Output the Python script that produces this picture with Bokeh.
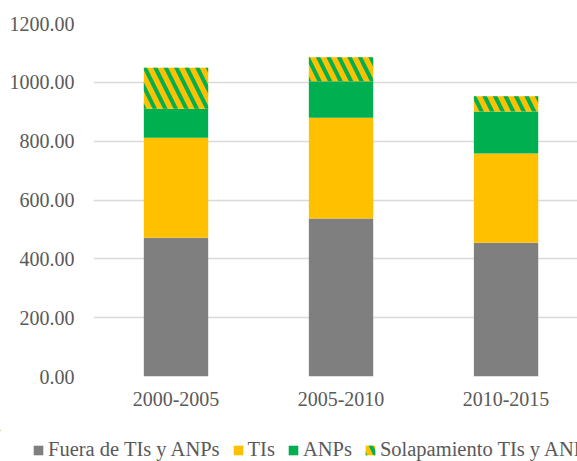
from bokeh.plotting import figure
from bokeh.models import Legend, LegendItem, FixedTicker, Range1d, ColumnDataSource
from bokeh.layouts import column
from bokeh.embed import file_html
from bokeh.resources import INLINE

periods = ["2000-2005", "2005-2010", "2010-2015"]
fuera = [472, 537, 455]
tis = [340, 343, 303]
anps = [98, 124, 143]
solap = [140, 81, 52]
series_names = ["Fuera de TIs y ANPs", "TIs", "ANPs", "Solapamiento TIs y ANPs"]
y_ticks = [0, 200, 400, 600, 800, 1000, 1200]

FONT = "Liberation Serif"
TXT = "#595959"
COLORS = ["#7F7F7F", "#FFC000", "#00B050", "#FFC000"]
HATCH = [" ", " ", " ", "\\"]

xs = [i + 0.5 for i in range(len(periods))]
keys = ["fuera", "tis", "anps", "solap"]
src = ColumnDataSource(dict(x=xs, fuera=fuera, tis=tis, anps=anps, solap=solap))

bar_style = dict(fill_color=COLORS, line_color=None, hatch_pattern=HATCH,
                 hatch_color=["#00B050"] * 4, hatch_scale=[21] * 4, hatch_weight=[4] * 4)

p = figure(width=577, height=430, x_range=Range1d(0, 2.933), y_range=Range1d(0, 1200),
           output_backend="svg", toolbar_location=None, frame_align=False,
           min_border_left=93, min_border_right=0, min_border_top=23, min_border_bottom=54)
p.outline_line_color = None

p.vbar_stack(keys, x="x", width=0.39, source=src, **bar_style)

p.xaxis.ticker = FixedTicker(ticks=xs)
p.xaxis.major_label_overrides = {x: lab for x, lab in zip(xs, periods)}
p.yaxis.ticker = FixedTicker(ticks=y_ticks)
p.yaxis.major_label_overrides = {t: f"{t:.2f}" for t in y_ticks}

for ax in (p.xaxis, p.yaxis):
    ax.axis_line_color = None
    ax.major_tick_line_color = None
    ax.minor_tick_line_color = None
    ax.major_label_text_font = FONT
    ax.major_label_text_font_size = "20px"
    ax.major_label_text_color = TXT
p.yaxis.major_label_standoff = 13
p.xaxis.major_label_standoff = 9

p.xgrid.grid_line_color = None
p.ygrid.ticker = FixedTicker(ticks=y_ticks)
p.ygrid.grid_line_color = "#D9D9D9"
p.ygrid.grid_line_width = 1.5

# legend strip below the chart (its proxy bars lie outside its ranges)
leg = figure(width=577, height=31, x_range=Range1d(100, 101), y_range=Range1d(-2000, -1000),
             x_axis_type=None, y_axis_type=None, frame_align=False,
             output_backend="svg", toolbar_location=None,
             min_border_left=0, min_border_right=0, min_border_top=0, min_border_bottom=0)
leg.grid.visible = False
leg.outline_line_color = None
leg_rs = leg.vbar_stack(keys, x="x", width=0.39, source=src, **bar_style)

legend = Legend(items=[LegendItem(label=n, renderers=[r]) for n, r in zip(series_names, leg_rs)],
                orientation="horizontal", location=(32, 0),
                padding=0, margin=0, spacing=12,
                glyph_width=12, glyph_height=12, label_standoff=4,
                label_text_font=FONT, label_text_font_size="20.5px", label_text_color=TXT,
                background_fill_alpha=0, border_line_color=None)
leg.add_layout(legend, "center")

layout = column(p, leg, spacing=0)
open("out.html", "w").write(file_html(layout, INLINE))
